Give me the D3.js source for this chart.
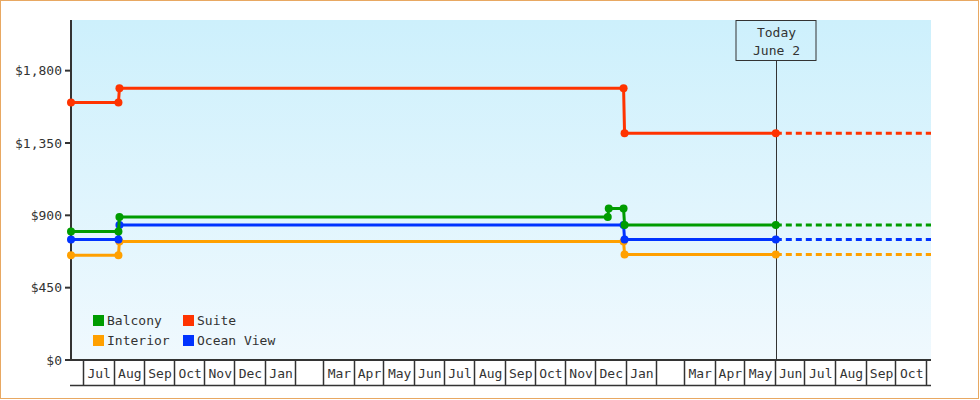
<!DOCTYPE html>
<html>
<head>
<meta charset="utf-8">
<script src="https://cdn.jsdelivr.net/npm/d3@7"></script>
<style>
  body { margin: 0; background: #fff; }
  text { font-family: "DejaVu Sans Mono", monospace; font-size: 13px; fill: #333; }
</style>
</head>
<body>
<div id="chart"></div>
<script>
// price history per cabin type: [date, price]
const balcony = [["2021-06-19", 800], ["2021-08-06", 800], ["2021-08-07", 889], ["2022-12-14", 889],
  ["2022-12-15", 942], ["2022-12-30", 942], ["2022-12-31", 840], ["2023-06-02", 840]];
const suite = [["2021-06-19", 1602], ["2021-08-06", 1602], ["2021-08-07", 1690], ["2022-12-30", 1690],
  ["2022-12-31", 1410], ["2023-06-02", 1410]];
const interior = [["2021-06-19", 652], ["2021-08-06", 652], ["2021-08-07", 737], ["2022-12-30", 737],
  ["2022-12-31", 657], ["2023-06-02", 657]];
const oceanView = [["2021-06-19", 750], ["2021-08-06", 750], ["2021-08-07", 840], ["2022-12-30", 840],
  ["2022-12-31", 750], ["2023-06-02", 750]];

const seriesNames = ["Balcony", "Suite", "Interior", "Ocean View"];
const seriesColors = ["#009c00", "#ff3300", "#ffa000", "#0033ff"];

const yTicks = [0, 450, 900, 1350, 1800];
const monthLabels = ["Jul", "Aug", "Sep", "Oct", "Nov", "Dec", "Jan", "", "Mar", "Apr", "May", "Jun",
  "Jul", "Aug", "Sep", "Oct", "Nov", "Dec", "Jan", "", "Mar", "Apr", "May", "Jun",
  "Jul", "Aug", "Sep", "Oct"];

const startDate = "2021-06-19", endDate = "2023-11-06", todayDate = "2023-06-02";
const todayLabel = ["Today", "June 2"];

const W = 980, H = 400;
const margin = { top: 20, right: 49, bottom: 40, left: 71 };
const width = W - margin.left - margin.right,
  height = H - margin.top - margin.bottom;

const parse = d3.timeParse("%Y-%m-%d");

const x = d3.scaleTime().domain([parse(startDate), parse(endDate)]).range([0, width]);
const y = d3.scaleLinear().domain([0, 2115]).range([height, 0]);

const svg = d3.select("#chart").append("svg")
  .attr("width", W)
  .attr("height", H);

// outer border
svg.append("rect")
  .attr("x", 0.5).attr("y", 0.5)
  .attr("width", W - 2).attr("height", H - 2)
  .attr("fill", "none")
  .attr("stroke", "#e8a862");

const defs = svg.append("defs");
const grad = defs.append("linearGradient").attr("id", "bg")
  .attr("x1", 0).attr("y1", 0).attr("x2", 0).attr("y2", 1);
grad.append("stop").attr("offset", "0%").attr("stop-color", "#cdf0fc");
grad.append("stop").attr("offset", "100%").attr("stop-color", "#f0f9fe");

const g = svg.append("g")
  .attr("transform", "translate(" + margin.left + "," + margin.top + ")");

g.append("rect")
  .attr("width", width).attr("height", height)
  .attr("fill", "url(#bg)");

// y axis
const yAxis = g.append("g");
yAxis.append("line")
  .attr("x1", 0).attr("x2", 0).attr("y1", 0).attr("y2", height)
  .attr("stroke", "#333").attr("stroke-width", 2);
yAxis.selectAll(".ytick")
  .data(yTicks)
  .enter().append("g")
  .attr("class", "ytick")
  .attr("transform", d => "translate(0," + y(d) + ")")
  .each(function(d) {
    const t = d3.select(this);
    t.append("line").attr("x1", -6).attr("x2", 0).attr("stroke", "#333").attr("stroke-width", 2);
    t.append("text").attr("x", -9).attr("dy", "0.35em").attr("text-anchor", "end")
      .text("$" + d3.format(",")(d));
  });

// x axis: month boxes
const months = d3.timeMonth.range(d3.timeMonth.ceil(x.domain()[0]), x.domain()[1]);
const xAxis = g.append("g").attr("transform", "translate(0," + height + ")");
xAxis.append("line")
  .attr("x1", -1).attr("x2", width).attr("y1", 0).attr("y2", 0)
  .attr("stroke", "#333").attr("stroke-width", 2);
xAxis.append("line")
  .attr("x1", -1).attr("x2", width).attr("y1", 25.5).attr("y2", 25.5)
  .attr("stroke", "#333").attr("stroke-width", 1.5);
xAxis.selectAll(".mtick")
  .data(months)
  .enter().append("line")
  .attr("class", "mtick")
  .attr("x1", d => Math.round(x(d)) + 0.5).attr("x2", d => Math.round(x(d)) + 0.5)
  .attr("y1", 0).attr("y2", 25)
  .attr("stroke", "#333").attr("stroke-width", 1.5);
xAxis.selectAll(".mlabel")
  .data(months.slice(0, monthLabels.length))
  .enter().append("text")
  .attr("class", "mlabel")
  .attr("x", d => (x(d) + x(d3.timeMonth.offset(d, 1))) / 2 + 1)
  .attr("y", 18)
  .attr("text-anchor", "middle")
  .text((d, i) => monthLabels[i]);

// today marker
const tx = Math.round(x(parse(todayDate))) + 0.5;
g.append("line")
  .attr("x1", tx).attr("x2", tx).attr("y1", 40).attr("y2", height)
  .attr("stroke", "#333").attr("stroke-width", 1);
g.append("rect")
  .attr("x", tx - 40.5).attr("y", 0.5).attr("width", 80).attr("height", 40)
  .attr("fill", "none").attr("stroke", "#333");
g.selectAll(".today")
  .data(todayLabel)
  .enter().append("text")
  .attr("x", tx).attr("y", (d, i) => 17 + i * 18)
  .attr("text-anchor", "middle")
  .text(d => d);

// series
const allSeries = [balcony, suite, interior, oceanView].map((s, i) => ({
  name: seriesNames[i],
  color: seriesColors[i],
  values: s.map(d => ({ date: parse(d[0]), price: d[1] }))
}));

const line = d3.line().x(d => x(d.date)).y(d => y(d.price));

const drawOrder = [2, 1, 3, 0];
drawOrder.forEach(k => {
  const s = allSeries[k];
  const last = s.values[s.values.length - 1];
  g.append("path")
    .datum([last, { date: x.domain()[1], price: last.price }])
    .attr("d", line)
    .attr("fill", "none")
    .attr("stroke", s.color)
    .attr("stroke-width", 3)
    .attr("stroke-dasharray", "6,4");
  g.append("path")
    .datum(s.values)
    .attr("d", line)
    .attr("fill", "none")
    .attr("stroke", s.color)
    .attr("stroke-width", 3);
  g.selectAll(".pt" + k)
    .data(s.values)
    .enter().append("circle")
    .attr("cx", d => x(d.date))
    .attr("cy", d => y(d.price))
    .attr("r", 4)
    .attr("fill", s.color);
});

// legend
const legend = g.selectAll(".legend")
  .data(allSeries)
  .enter().append("g")
  .attr("transform", (d, i) => "translate(" + (22 + (i % 2) * 90) + "," + (295 + Math.floor(i / 2) * 20) + ")");
legend.append("rect")
  .attr("width", 11).attr("height", 11)
  .attr("fill", d => d.color);
legend.append("text")
  .attr("x", 14).attr("y", 10)
  .text(d => d.name);
</script>
</body>
</html>
